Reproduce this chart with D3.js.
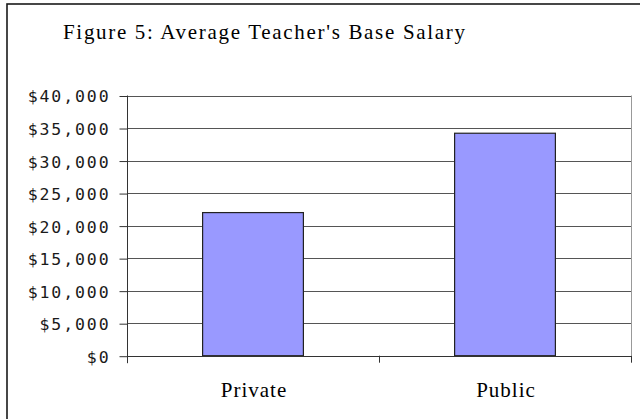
<!DOCTYPE html>
<html>
<head>
<meta charset="utf-8">
<script src="https://cdn.jsdelivr.net/npm/d3@7"></script>
<style>
  html, body { margin: 0; padding: 0; background: #fff; }
  svg { display: block; }
</style>
</head>
<body>
<svg id="chart" width="640" height="419"></svg>
<script>
const title = "Figure 5: Average Teacher's Base Salary";
const categories = ["Private", "Public"];
const salaries = [22000, 34200];
const yTicks = [0, 5000, 10000, 15000, 20000, 25000, 30000, 35000, 40000];
const yTickLabels = ["$0", "$5,000", "$10,000", "$15,000", "$20,000", "$25,000", "$30,000", "$35,000", "$40,000"];

const svg = d3.select("#chart");

// outer chart border (cropped on right/bottom)
svg.append("rect")
  .attr("x", 7).attr("y", 4)
  .attr("width", 700).attr("height", 500)
  .attr("fill", "#fff")
  .attr("stroke", "#1a1a1a")
  .attr("stroke-width", 1.6);

const pLeft = 127, pRight = 631, pTop = 95.5, pBottom = 355.7;

const x = d3.scaleBand().domain(categories).range([pLeft, pRight])
  .paddingInner(0.6).paddingOuter(0.3);
const y = d3.scaleLinear().domain([0, 40000]).range([pBottom, pTop]);

// gridlines
svg.append("g").selectAll("line").data(yTicks.filter(d => d > 0)).join("line")
  .attr("x1", pLeft).attr("x2", pRight)
  .attr("y1", d => Math.round(y(d)) + 0.5).attr("y2", d => Math.round(y(d)) + 0.5)
  .attr("stroke", "#555").attr("stroke-width", 1);

// right plot border
svg.append("line")
  .attr("x1", pRight + 0.5).attr("x2", pRight + 0.5)
  .attr("y1", pTop).attr("y2", pBottom)
  .attr("stroke", "#999").attr("stroke-width", 1);

// bars
svg.append("g").selectAll("rect").data(categories).join("rect")
  .attr("x", d => x(d))
  .attr("y", (d, i) => y(salaries[i]))
  .attr("width", x.bandwidth())
  .attr("height", (d, i) => y(0) - y(salaries[i]))
  .attr("fill", "#9999ff")
  .attr("stroke", "#222")
  .attr("stroke-width", 1.2);

// y axis
const yAxis = d3.axisLeft(y)
  .tickValues(yTicks)
  .tickFormat((d, i) => yTickLabels[i])
  .tickSize(8).tickPadding(9);
const gy = svg.append("g").attr("transform", `translate(${pLeft + 0.5},0.5)`).call(yAxis);
gy.select(".domain").attr("stroke", "#333").attr("d", `M0,${pTop - 0.5}V${pBottom + 7}`);
gy.selectAll(".tick line").attr("stroke", "#333");
gy.selectAll(".tick text")
  .attr("font-family", "'DejaVu Sans Mono', monospace")
  .attr("font-size", 16.5)
  .attr("letter-spacing", "1.9px")
  .attr("fill", "#1a1a1a")
  .attr("dy", "0.36em");

// x axis line and ticks at band boundaries
const bounds = [pLeft, pLeft + x.step(), pRight];
svg.append("line")
  .attr("x1", pLeft).attr("x2", pRight)
  .attr("y1", Math.round(pBottom) + 0.5).attr("y2", Math.round(pBottom) + 0.5)
  .attr("stroke", "#333").attr("stroke-width", 1.2);
svg.append("g").selectAll("line").data(bounds).join("line")
  .attr("x1", d => Math.round(d) + 0.5).attr("x2", d => Math.round(d) + 0.5)
  .attr("y1", pBottom).attr("y2", pBottom + 7)
  .attr("stroke", "#333");

// category labels
svg.append("g").selectAll("text").data(categories).join("text")
  .attr("x", d => x(d) + x.bandwidth() / 2 + 1)
  .attr("y", 397)
  .attr("text-anchor", "middle")
  .attr("font-family", "'Liberation Serif', serif")
  .attr("font-size", 21)
  .attr("letter-spacing", "1px")
  .attr("fill", "#000")
  .text(d => d);

// title
svg.append("text")
  .attr("x", 63).attr("y", 38.5)
  .attr("font-family", "'Liberation Serif', serif")
  .attr("font-size", 21)
  .attr("textLength", 402)
  .attr("lengthAdjust", "spacing")
  .attr("fill", "#000")
  .text(title);
</script>
</body>
</html>
